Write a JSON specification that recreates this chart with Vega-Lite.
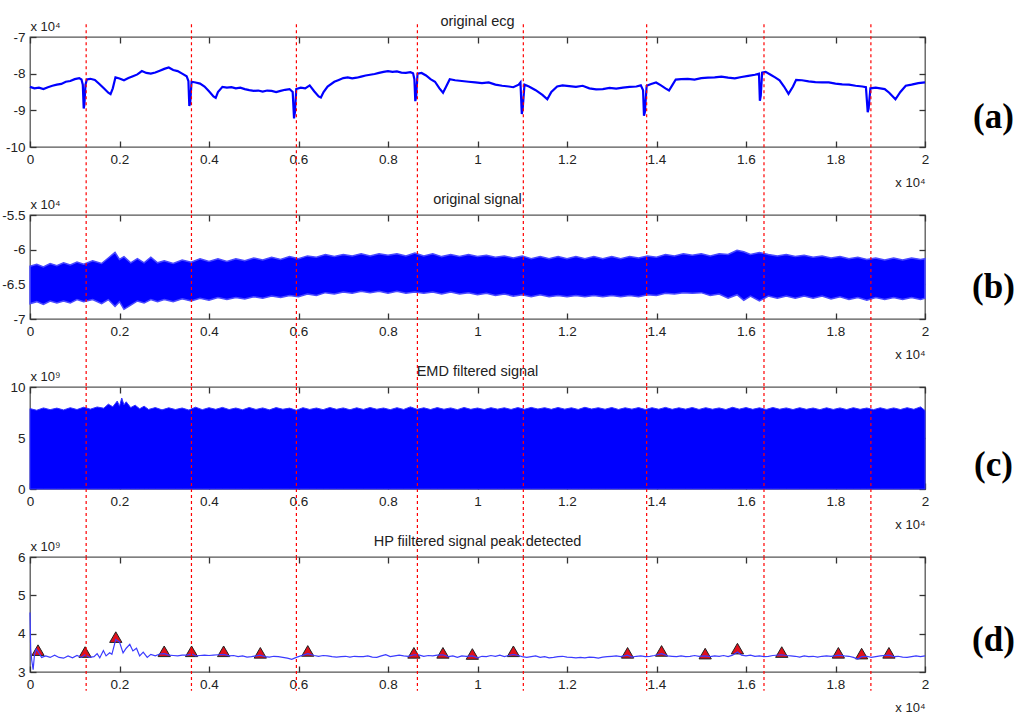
{
  "$schema": "https://vega.github.io/schema/vega-lite/v6.json",
  "background": "white",
  "padding": {"left": 1, "top": 12, "right": 5, "bottom": 3},
  "bounds": "flush",
  "spacing": 68,
  "datasets": {
    "ecg": [
      {"x":0,"v":-8.36},{"x":100,"v":-8.40},{"x":200,"v":-8.38},{"x":300,"v":-8.42},{"x":400,"v":-8.37},{"x":500,"v":-8.33},{"x":600,"v":-8.30},{"x":700,"v":-8.28},{"x":800,"v":-8.22},{"x":900,"v":-8.20},{"x":1000,"v":-8.15},{"x":1100,"v":-8.12},{"x":1150,"v":-8.16},{"x":1180,"v":-8.30},{"x":1200,"v":-8.95},{"x":1215,"v":-8.85},{"x":1240,"v":-8.30},{"x":1270,"v":-8.16},{"x":1350,"v":-8.14},{"x":1450,"v":-8.17},{"x":1550,"v":-8.28},{"x":1650,"v":-8.40},{"x":1750,"v":-8.52},{"x":1800,"v":-8.56},{"x":1850,"v":-8.40},{"x":1910,"v":-8.10},{"x":2000,"v":-8.13},{"x":2100,"v":-8.18},{"x":2200,"v":-8.12},{"x":2300,"v":-8.07},{"x":2400,"v":-8.02},{"x":2500,"v":-7.93},{"x":2600,"v":-7.98},{"x":2700,"v":-8.00},{"x":2800,"v":-7.97},{"x":2900,"v":-7.92},{"x":3000,"v":-7.87},{"x":3100,"v":-7.83},{"x":3200,"v":-7.90},{"x":3300,"v":-7.93},{"x":3400,"v":-8.00},{"x":3500,"v":-8.07},{"x":3540,"v":-8.20},{"x":3560,"v":-8.88},{"x":3580,"v":-8.80},{"x":3610,"v":-8.22},{"x":3700,"v":-8.24},{"x":3800,"v":-8.27},{"x":3900,"v":-8.35},{"x":4000,"v":-8.48},{"x":4100,"v":-8.62},{"x":4150,"v":-8.66},{"x":4200,"v":-8.50},{"x":4300,"v":-8.36},{"x":4400,"v":-8.38},{"x":4500,"v":-8.37},{"x":4600,"v":-8.40},{"x":4700,"v":-8.38},{"x":4800,"v":-8.42},{"x":4900,"v":-8.45},{"x":5000,"v":-8.47},{"x":5100,"v":-8.46},{"x":5200,"v":-8.49},{"x":5300,"v":-8.46},{"x":5400,"v":-8.47},{"x":5500,"v":-8.50},{"x":5600,"v":-8.47},{"x":5700,"v":-8.44},{"x":5800,"v":-8.42},{"x":5870,"v":-8.50},{"x":5900,"v":-9.22},{"x":5920,"v":-9.05},{"x":5950,"v":-8.42},{"x":6050,"v":-8.38},{"x":6150,"v":-8.40},{"x":6250,"v":-8.32},{"x":6350,"v":-8.48},{"x":6450,"v":-8.62},{"x":6500,"v":-8.65},{"x":6560,"v":-8.50},{"x":6650,"v":-8.35},{"x":6800,"v":-8.22},{"x":6900,"v":-8.17},{"x":7000,"v":-8.12},{"x":7100,"v":-8.10},{"x":7200,"v":-8.13},{"x":7300,"v":-8.11},{"x":7400,"v":-8.08},{"x":7500,"v":-8.05},{"x":7600,"v":-8.03},{"x":7700,"v":-8.01},{"x":7800,"v":-7.98},{"x":7900,"v":-7.95},{"x":8000,"v":-7.93},{"x":8100,"v":-7.95},{"x":8200,"v":-7.94},{"x":8300,"v":-7.97},{"x":8400,"v":-7.98},{"x":8500,"v":-7.96},{"x":8560,"v":-7.99},{"x":8590,"v":-8.15},{"x":8610,"v":-8.75},{"x":8630,"v":-8.62},{"x":8660,"v":-8.00},{"x":8750,"v":-7.98},{"x":8850,"v":-8.05},{"x":8950,"v":-8.15},{"x":9050,"v":-8.22},{"x":9150,"v":-8.40},{"x":9230,"v":-8.52},{"x":9300,"v":-8.35},{"x":9380,"v":-8.15},{"x":9500,"v":-8.18},{"x":9650,"v":-8.20},{"x":9800,"v":-8.22},{"x":9950,"v":-8.24},{"x":10100,"v":-8.26},{"x":10250,"v":-8.24},{"x":10400,"v":-8.30},{"x":10550,"v":-8.33},{"x":10700,"v":-8.35},{"x":10800,"v":-8.37},{"x":10920,"v":-8.30},{"x":10960,"v":-8.24},{"x":10990,"v":-9.10},{"x":11010,"v":-8.95},{"x":11050,"v":-8.30},{"x":11150,"v":-8.35},{"x":11300,"v":-8.45},{"x":11450,"v":-8.58},{"x":11560,"v":-8.70},{"x":11650,"v":-8.50},{"x":11780,"v":-8.35},{"x":11900,"v":-8.32},{"x":12050,"v":-8.34},{"x":12200,"v":-8.36},{"x":12350,"v":-8.33},{"x":12500,"v":-8.40},{"x":12650,"v":-8.43},{"x":12800,"v":-8.42},{"x":12950,"v":-8.39},{"x":13100,"v":-8.41},{"x":13250,"v":-8.38},{"x":13400,"v":-8.36},{"x":13550,"v":-8.35},{"x":13650,"v":-8.32},{"x":13700,"v":-8.45},{"x":13720,"v":-9.15},{"x":13740,"v":-9.05},{"x":13780,"v":-8.33},{"x":13880,"v":-8.28},{"x":13990,"v":-8.24},{"x":14100,"v":-8.32},{"x":14200,"v":-8.40},{"x":14280,"v":-8.46},{"x":14350,"v":-8.32},{"x":14430,"v":-8.16},{"x":14550,"v":-8.15},{"x":14700,"v":-8.14},{"x":14850,"v":-8.16},{"x":15000,"v":-8.12},{"x":15150,"v":-8.11},{"x":15300,"v":-8.10},{"x":15450,"v":-8.08},{"x":15600,"v":-8.11},{"x":15750,"v":-8.13},{"x":15900,"v":-8.09},{"x":16050,"v":-8.06},{"x":16200,"v":-8.03},{"x":16290,"v":-8.00},{"x":16310,"v":-8.74},{"x":16330,"v":-8.60},{"x":16360,"v":-7.97},{"x":16440,"v":-7.95},{"x":16550,"v":-8.03},{"x":16650,"v":-8.10},{"x":16750,"v":-8.18},{"x":16850,"v":-8.35},{"x":16950,"v":-8.55},{"x":17050,"v":-8.35},{"x":17120,"v":-8.17},{"x":17250,"v":-8.18},{"x":17400,"v":-8.21},{"x":17550,"v":-8.23},{"x":17700,"v":-8.24},{"x":17850,"v":-8.24},{"x":18000,"v":-8.27},{"x":18150,"v":-8.29},{"x":18300,"v":-8.30},{"x":18450,"v":-8.33},{"x":18600,"v":-8.35},{"x":18680,"v":-8.37},{"x":18720,"v":-9.05},{"x":18740,"v":-8.95},{"x":18780,"v":-8.40},{"x":18900,"v":-8.38},{"x":19000,"v":-8.40},{"x":19100,"v":-8.42},{"x":19200,"v":-8.52},{"x":19340,"v":-8.70},{"x":19450,"v":-8.50},{"x":19570,"v":-8.33},{"x":19700,"v":-8.30},{"x":19850,"v":-8.26},{"x":20000,"v":-8.24}
    ],
    "sig": [
      {"x":0,"hi":-6.24,"lo":-6.78},{"x":150,"hi":-6.21,"lo":-6.75},{"x":300,"hi":-6.25,"lo":-6.79},{"x":450,"hi":-6.20,"lo":-6.74},{"x":600,"hi":-6.23,"lo":-6.77},{"x":750,"hi":-6.19,"lo":-6.74},{"x":900,"hi":-6.22,"lo":-6.77},{"x":1050,"hi":-6.18,"lo":-6.72},{"x":1200,"hi":-6.21,"lo":-6.75},{"x":1400,"hi":-6.16,"lo":-6.72},{"x":1600,"hi":-6.20,"lo":-6.78},{"x":1750,"hi":-6.12,"lo":-6.72},{"x":1900,"hi":-6.04,"lo":-6.82},{"x":2000,"hi":-6.14,"lo":-6.75},{"x":2100,"hi":-6.10,"lo":-6.86},{"x":2250,"hi":-6.19,"lo":-6.80},{"x":2400,"hi":-6.13,"lo":-6.74},{"x":2550,"hi":-6.19,"lo":-6.77},{"x":2700,"hi":-6.11,"lo":-6.72},{"x":2850,"hi":-6.19,"lo":-6.75},{"x":3000,"hi":-6.16,"lo":-6.72},{"x":3200,"hi":-6.20,"lo":-6.75},{"x":3400,"hi":-6.15,"lo":-6.71},{"x":3600,"hi":-6.18,"lo":-6.74},{"x":3800,"hi":-6.13,"lo":-6.70},{"x":4000,"hi":-6.17,"lo":-6.73},{"x":4200,"hi":-6.13,"lo":-6.69},{"x":4400,"hi":-6.17,"lo":-6.72},{"x":4600,"hi":-6.13,"lo":-6.69},{"x":4800,"hi":-6.16,"lo":-6.71},{"x":5000,"hi":-6.12,"lo":-6.68},{"x":5200,"hi":-6.15,"lo":-6.70},{"x":5400,"hi":-6.11,"lo":-6.67},{"x":5600,"hi":-6.14,"lo":-6.69},{"x":5800,"hi":-6.10,"lo":-6.66},{"x":6000,"hi":-6.13,"lo":-6.68},{"x":6200,"hi":-6.09,"lo":-6.64},{"x":6400,"hi":-6.11,"lo":-6.66},{"x":6600,"hi":-6.07,"lo":-6.62},{"x":6800,"hi":-6.10,"lo":-6.64},{"x":7000,"hi":-6.07,"lo":-6.61},{"x":7200,"hi":-6.09,"lo":-6.63},{"x":7400,"hi":-6.06,"lo":-6.60},{"x":7600,"hi":-6.09,"lo":-6.62},{"x":7800,"hi":-6.06,"lo":-6.60},{"x":8000,"hi":-6.08,"lo":-6.63},{"x":8200,"hi":-6.06,"lo":-6.60},{"x":8400,"hi":-6.09,"lo":-6.63},{"x":8600,"hi":-6.05,"lo":-6.61},{"x":8800,"hi":-6.09,"lo":-6.63},{"x":9000,"hi":-6.06,"lo":-6.61},{"x":9200,"hi":-6.10,"lo":-6.64},{"x":9400,"hi":-6.07,"lo":-6.61},{"x":9600,"hi":-6.10,"lo":-6.64},{"x":9800,"hi":-6.07,"lo":-6.62},{"x":10000,"hi":-6.10,"lo":-6.65},{"x":10200,"hi":-6.08,"lo":-6.63},{"x":10400,"hi":-6.11,"lo":-6.66},{"x":10600,"hi":-6.09,"lo":-6.64},{"x":10800,"hi":-6.12,"lo":-6.67},{"x":11000,"hi":-6.09,"lo":-6.65},{"x":11200,"hi":-6.13,"lo":-6.68},{"x":11400,"hi":-6.10,"lo":-6.65},{"x":11600,"hi":-6.13,"lo":-6.68},{"x":11800,"hi":-6.10,"lo":-6.66},{"x":12000,"hi":-6.13,"lo":-6.68},{"x":12200,"hi":-6.10,"lo":-6.66},{"x":12400,"hi":-6.13,"lo":-6.68},{"x":12600,"hi":-6.10,"lo":-6.66},{"x":12800,"hi":-6.13,"lo":-6.68},{"x":13000,"hi":-6.10,"lo":-6.66},{"x":13200,"hi":-6.13,"lo":-6.68},{"x":13400,"hi":-6.10,"lo":-6.66},{"x":13600,"hi":-6.12,"lo":-6.68},{"x":13800,"hi":-6.09,"lo":-6.65},{"x":14000,"hi":-6.11,"lo":-6.66},{"x":14200,"hi":-6.07,"lo":-6.63},{"x":14400,"hi":-6.09,"lo":-6.64},{"x":14600,"hi":-6.06,"lo":-6.62},{"x":14800,"hi":-6.08,"lo":-6.63},{"x":15000,"hi":-6.06,"lo":-6.62},{"x":15200,"hi":-6.09,"lo":-6.66},{"x":15400,"hi":-6.06,"lo":-6.64},{"x":15600,"hi":-6.07,"lo":-6.70},{"x":15800,"hi":-6.01,"lo":-6.65},{"x":15950,"hi":-6.03,"lo":-6.73},{"x":16100,"hi":-6.07,"lo":-6.67},{"x":16300,"hi":-6.04,"lo":-6.74},{"x":16500,"hi":-6.07,"lo":-6.67},{"x":16700,"hi":-6.09,"lo":-6.70},{"x":16900,"hi":-6.07,"lo":-6.67},{"x":17100,"hi":-6.10,"lo":-6.70},{"x":17300,"hi":-6.08,"lo":-6.67},{"x":17500,"hi":-6.11,"lo":-6.70},{"x":17700,"hi":-6.09,"lo":-6.67},{"x":17900,"hi":-6.12,"lo":-6.71},{"x":18100,"hi":-6.10,"lo":-6.68},{"x":18300,"hi":-6.13,"lo":-6.72},{"x":18500,"hi":-6.11,"lo":-6.69},{"x":18700,"hi":-6.14,"lo":-6.73},{"x":18900,"hi":-6.12,"lo":-6.69},{"x":19100,"hi":-6.15,"lo":-6.72},{"x":19300,"hi":-6.12,"lo":-6.69},{"x":19500,"hi":-6.15,"lo":-6.72},{"x":19700,"hi":-6.12,"lo":-6.69},{"x":19900,"hi":-6.14,"lo":-6.72},{"x":20000,"hi":-6.13,"lo":-6.70}
    ],
    "emd": [
      {"x":0,"hi":7.88},{"x":150,"hi":7.72},{"x":300,"hi":7.95},{"x":450,"hi":7.78},{"x":600,"hi":7.93},{"x":750,"hi":7.75},{"x":900,"hi":7.97},{"x":1050,"hi":7.79},{"x":1200,"hi":8.02},{"x":1350,"hi":7.83},{"x":1500,"hi":8.04},{"x":1650,"hi":7.92},{"x":1750,"hi":8.32},{"x":1850,"hi":8.06},{"x":1950,"hi":8.62},{"x":2000,"hi":8.12},{"x":2050,"hi":8.92},{"x":2100,"hi":8.25},{"x":2150,"hi":8.55},{"x":2250,"hi":7.98},{"x":2350,"hi":8.22},{"x":2450,"hi":7.86},{"x":2550,"hi":8.12},{"x":2650,"hi":7.80},{"x":2800,"hi":7.98},{"x":2950,"hi":7.76},{"x":3100,"hi":7.96},{"x":3250,"hi":7.79},{"x":3400,"hi":7.94},{"x":3550,"hi":7.74},{"x":3700,"hi":8.02},{"x":3850,"hi":7.78},{"x":4000,"hi":7.97},{"x":4150,"hi":7.81},{"x":4300,"hi":8.00},{"x":4450,"hi":7.79},{"x":4600,"hi":7.94},{"x":4750,"hi":7.77},{"x":4900,"hi":7.99},{"x":5050,"hi":7.80},{"x":5200,"hi":7.95},{"x":5350,"hi":7.76},{"x":5500,"hi":7.98},{"x":5650,"hi":7.82},{"x":5800,"hi":7.93},{"x":5950,"hi":7.72},{"x":6100,"hi":7.97},{"x":6250,"hi":7.80},{"x":6400,"hi":7.94},{"x":6550,"hi":7.78},{"x":6700,"hi":7.99},{"x":6850,"hi":7.81},{"x":7000,"hi":7.95},{"x":7150,"hi":7.77},{"x":7300,"hi":7.96},{"x":7450,"hi":7.80},{"x":7600,"hi":7.99},{"x":7750,"hi":7.82},{"x":7900,"hi":7.94},{"x":8050,"hi":7.78},{"x":8200,"hi":7.97},{"x":8350,"hi":7.80},{"x":8500,"hi":8.05},{"x":8650,"hi":7.81},{"x":8800,"hi":7.96},{"x":8950,"hi":7.79},{"x":9100,"hi":7.98},{"x":9250,"hi":7.82},{"x":9400,"hi":7.95},{"x":9550,"hi":7.78},{"x":9700,"hi":7.99},{"x":9850,"hi":7.81},{"x":10000,"hi":7.94},{"x":10150,"hi":7.79},{"x":10300,"hi":7.97},{"x":10450,"hi":7.83},{"x":10600,"hi":7.96},{"x":10750,"hi":7.80},{"x":10900,"hi":7.98},{"x":11050,"hi":7.82},{"x":11200,"hi":8.00},{"x":11350,"hi":7.84},{"x":11500,"hi":7.97},{"x":11650,"hi":7.81},{"x":11800,"hi":7.99},{"x":11950,"hi":7.83},{"x":12100,"hi":7.96},{"x":12250,"hi":7.80},{"x":12400,"hi":8.01},{"x":12550,"hi":7.84},{"x":12700,"hi":7.97},{"x":12850,"hi":7.82},{"x":13000,"hi":7.99},{"x":13150,"hi":7.80},{"x":13300,"hi":7.96},{"x":13450,"hi":7.83},{"x":13600,"hi":7.98},{"x":13750,"hi":7.79},{"x":13900,"hi":7.97},{"x":14050,"hi":7.82},{"x":14200,"hi":8.00},{"x":14350,"hi":7.81},{"x":14500,"hi":7.96},{"x":14650,"hi":7.83},{"x":14800,"hi":7.99},{"x":14950,"hi":7.80},{"x":15100,"hi":7.97},{"x":15250,"hi":7.82},{"x":15400,"hi":7.95},{"x":15550,"hi":7.79},{"x":15700,"hi":8.01},{"x":15850,"hi":7.83},{"x":16000,"hi":7.98},{"x":16150,"hi":7.81},{"x":16300,"hi":7.96},{"x":16450,"hi":7.80},{"x":16600,"hi":7.99},{"x":16750,"hi":7.82},{"x":16900,"hi":7.95},{"x":17050,"hi":7.79},{"x":17200,"hi":7.97},{"x":17350,"hi":7.81},{"x":17500,"hi":7.94},{"x":17650,"hi":7.78},{"x":17800,"hi":7.96},{"x":17950,"hi":7.80},{"x":18100,"hi":7.95},{"x":18250,"hi":7.79},{"x":18400,"hi":7.97},{"x":18550,"hi":7.81},{"x":18700,"hi":7.94},{"x":18850,"hi":7.78},{"x":19000,"hi":7.96},{"x":19150,"hi":7.80},{"x":19300,"hi":7.95},{"x":19450,"hi":7.79},{"x":19600,"hi":7.97},{"x":19750,"hi":7.81},{"x":19900,"hi":8.05},{"x":20000,"hi":7.70}
    ],
    "hp": [
      {"x":0,"v":4.55},{"x":15,"v":3.6},{"x":40,"v":3.3},{"x":70,"v":3.06},{"x":100,"v":3.45},{"x":140,"v":3.6},{"x":200,"v":3.5},{"x":260,"v":3.38},{"x":350,"v":3.42},{"x":450,"v":3.38},{"x":550,"v":3.44},{"x":650,"v":3.38},{"x":750,"v":3.36},{"x":850,"v":3.42},{"x":950,"v":3.37},{"x":1050,"v":3.43},{"x":1150,"v":3.38},{"x":1230,"v":3.45},{"x":1330,"v":3.38},{"x":1430,"v":3.40},{"x":1500,"v":3.48},{"x":1560,"v":3.37},{"x":1640,"v":3.56},{"x":1700,"v":3.42},{"x":1780,"v":3.5},{"x":1830,"v":3.46},{"x":1917,"v":3.85},{"x":2000,"v":3.78},{"x":2080,"v":3.5},{"x":2150,"v":3.62},{"x":2230,"v":3.72},{"x":2300,"v":3.55},{"x":2380,"v":3.62},{"x":2450,"v":3.42},{"x":2530,"v":3.52},{"x":2620,"v":3.38},{"x":2700,"v":3.46},{"x":2800,"v":3.42},{"x":2900,"v":3.47},{"x":3000,"v":3.48},{"x":3100,"v":3.44},{"x":3200,"v":3.43},{"x":3300,"v":3.42},{"x":3400,"v":3.44},{"x":3500,"v":3.44},{"x":3611,"v":3.47},{"x":3700,"v":3.42},{"x":3800,"v":3.43},{"x":3900,"v":3.44},{"x":4000,"v":3.43},{"x":4100,"v":3.44},{"x":4200,"v":3.45},{"x":4327,"v":3.46},{"x":4450,"v":3.42},{"x":4550,"v":3.43},{"x":4650,"v":3.40},{"x":4750,"v":3.42},{"x":4850,"v":3.39},{"x":4950,"v":3.40},{"x":5050,"v":3.42},{"x":5147,"v":3.44},{"x":5250,"v":3.40},{"x":5350,"v":3.39},{"x":5450,"v":3.41},{"x":5550,"v":3.40},{"x":5650,"v":3.38},{"x":5750,"v":3.36},{"x":5850,"v":3.33},{"x":5950,"v":3.38},{"x":6050,"v":3.42},{"x":6207,"v":3.48},{"x":6350,"v":3.43},{"x":6450,"v":3.41},{"x":6550,"v":3.43},{"x":6650,"v":3.42},{"x":6750,"v":3.40},{"x":6850,"v":3.39},{"x":6950,"v":3.40},{"x":7050,"v":3.41},{"x":7150,"v":3.39},{"x":7250,"v":3.41},{"x":7350,"v":3.40},{"x":7450,"v":3.40},{"x":7550,"v":3.42},{"x":7650,"v":3.39},{"x":7750,"v":3.38},{"x":7850,"v":3.42},{"x":7950,"v":3.45},{"x":8050,"v":3.40},{"x":8150,"v":3.42},{"x":8250,"v":3.44},{"x":8350,"v":3.42},{"x":8450,"v":3.41},{"x":8579,"v":3.45},{"x":8700,"v":3.44},{"x":8800,"v":3.41},{"x":8900,"v":3.43},{"x":9000,"v":3.42},{"x":9100,"v":3.44},{"x":9228,"v":3.45},{"x":9350,"v":3.40},{"x":9450,"v":3.42},{"x":9550,"v":3.38},{"x":9650,"v":3.42},{"x":9750,"v":3.41},{"x":9885,"v":3.42},{"x":10000,"v":3.37},{"x":10100,"v":3.41},{"x":10200,"v":3.40},{"x":10300,"v":3.43},{"x":10400,"v":3.41},{"x":10500,"v":3.44},{"x":10600,"v":3.40},{"x":10700,"v":3.43},{"x":10802,"v":3.46},{"x":10900,"v":3.43},{"x":11000,"v":3.40},{"x":11100,"v":3.38},{"x":11200,"v":3.40},{"x":11300,"v":3.42},{"x":11400,"v":3.38},{"x":11500,"v":3.40},{"x":11600,"v":3.37},{"x":11700,"v":3.38},{"x":11800,"v":3.40},{"x":11900,"v":3.41},{"x":12000,"v":3.39},{"x":12100,"v":3.38},{"x":12200,"v":3.37},{"x":12300,"v":3.38},{"x":12400,"v":3.37},{"x":12500,"v":3.39},{"x":12600,"v":3.38},{"x":12700,"v":3.36},{"x":12800,"v":3.39},{"x":12900,"v":3.40},{"x":13000,"v":3.41},{"x":13100,"v":3.42},{"x":13200,"v":3.40},{"x":13354,"v":3.44},{"x":13450,"v":3.39},{"x":13550,"v":3.41},{"x":13650,"v":3.42},{"x":13750,"v":3.40},{"x":13850,"v":3.41},{"x":13950,"v":3.43},{"x":14113,"v":3.48},{"x":14250,"v":3.42},{"x":14350,"v":3.41},{"x":14450,"v":3.40},{"x":14550,"v":3.42},{"x":14650,"v":3.40},{"x":14750,"v":3.41},{"x":14850,"v":3.43},{"x":14950,"v":3.41},{"x":15088,"v":3.42},{"x":15200,"v":3.40},{"x":15300,"v":3.42},{"x":15400,"v":3.41},{"x":15500,"v":3.43},{"x":15600,"v":3.40},{"x":15700,"v":3.44},{"x":15809,"v":3.52},{"x":15900,"v":3.44},{"x":16000,"v":3.42},{"x":16100,"v":3.44},{"x":16200,"v":3.41},{"x":16300,"v":3.42},{"x":16400,"v":3.40},{"x":16500,"v":3.41},{"x":16600,"v":3.43},{"x":16799,"v":3.45},{"x":16900,"v":3.43},{"x":17000,"v":3.42},{"x":17100,"v":3.41},{"x":17200,"v":3.39},{"x":17300,"v":3.42},{"x":17400,"v":3.40},{"x":17500,"v":3.41},{"x":17600,"v":3.39},{"x":17700,"v":3.41},{"x":17800,"v":3.42},{"x":17900,"v":3.41},{"x":18064,"v":3.44},{"x":18200,"v":3.42},{"x":18300,"v":3.41},{"x":18400,"v":3.38},{"x":18500,"v":3.34},{"x":18584,"v":3.40},{"x":18700,"v":3.41},{"x":18800,"v":3.38},{"x":18900,"v":3.40},{"x":19000,"v":3.42},{"x":19194,"v":3.44},{"x":19300,"v":3.40},{"x":19400,"v":3.41},{"x":19500,"v":3.39},{"x":19600,"v":3.38},{"x":19700,"v":3.40},{"x":19800,"v":3.42},{"x":19900,"v":3.40},{"x":20000,"v":3.42}
    ],
    "peaks": [
      {"x":179,"v":3.57},{"x":1231,"v":3.52},{"x":1917,"v":3.91},{"x":2999,"v":3.54},{"x":3611,"v":3.54},{"x":4327,"v":3.54},{"x":5147,"v":3.50},{"x":6207,"v":3.55},{"x":8579,"v":3.50},{"x":9228,"v":3.50},{"x":9885,"v":3.47},{"x":10802,"v":3.54},{"x":13354,"v":3.50},{"x":14113,"v":3.55},{"x":15088,"v":3.48},{"x":15809,"v":3.61},{"x":16799,"v":3.52},{"x":18064,"v":3.50},{"x":18584,"v":3.48},{"x":19194,"v":3.50}
    ],
    "qrs": [
      {"x":1255},{"x":3608},{"x":5953},{"x":8657},{"x":11024},{"x":13780},{"x":16402},{"x":18791}
    ]
  },
  "config": {
    "font": "Liberation Sans",
    "view": {"stroke": "#555555", "strokeWidth": 1.3},
    "axis": {
      "labelFont": "Liberation Sans", "labelFontSize": 13.5, "labelColor": "#222222",
      "tickColor": "#333333", "tickSize": -6, "tickWidth": 1.3,
      "domain": false, "grid": false, "labelPadding": 11, "labelFlush": false,
      "titleFont": "Liberation Sans", "titleFontWeight": "normal", "titleFontSize": 13, "titleColor": "#222222"
    },
    "title": {"font": "Liberation Sans", "fontSize": 14.5, "fontWeight": "normal", "color": "#222222", "anchor": "middle", "baseline": "alphabetic", "offset": -9}
  },
  "vconcat": [
    {
      "width": 895, "height": 110,
      "title": "original ecg",
      "layer": [
        {
          "data": {"name": "ecg"},
          "mark": {"type": "line", "color": "#0000ff", "strokeWidth": 2.2},
          "encoding": {
            "x": {"field": "x", "type": "quantitative", "scale": {"domain": [0, 20000], "nice": false},
                  "axis": {"orient": "bottom", "values": [0,2000,4000,6000,8000,10000,12000,14000,16000,18000,20000], "labelExpr": "'' + datum.value / 10000", "title": "x 10⁴", "titleAnchor": "end", "titlePadding": 11}},
            "y": {"field": "v", "type": "quantitative", "scale": {"domain": [-10, -7], "nice": false, "zero": false},
                  "axis": {"orient": "left", "values": [-10,-9,-8,-7], "labelExpr": "'' + datum.value", "title": "x 10⁴", "titleAngle": 0, "titleAlign": "left", "titleBaseline": "alphabetic", "titleX": 0, "titleY": -7}}
          }
        },
        {
          "data": {"name": "qrs"},
          "mark": {"type": "rule", "color": "#ff0000", "strokeDash": [3, 3], "strokeWidth": 1.2, "clip": false},
          "encoding": {
            "x": {"field": "x", "type": "quantitative", "scale": {"domain": [0, 20000], "nice": false},
                  "axis": {"orient": "top", "values": [0,2000,4000,6000,8000,10000,12000,14000,16000,18000,20000], "labels": false, "title": null}},
            "y": {"datum": -6.65, "type": "quantitative", "scale": {"domain": [-10, -7], "nice": false, "zero": false},
                  "axis": {"orient": "right", "values": [-10,-9,-8,-7], "labels": false, "title": null}},
            "y2": {"datum": -11.855}
          }
        },
        {
          "data": {"values": [{"t": "(a)"}]},
          "mark": {"type": "text", "font": "Liberation Serif", "fontWeight": "bold", "fontSize": 35, "align": "center", "baseline": "middle", "clip": false},
          "encoding": {
            "x": {"datum": 21530, "type": "quantitative", "scale": {"domain": [0, 20000], "nice": false}, "axis": null},
            "y": {"datum": -9.19, "type": "quantitative", "scale": {"domain": [-10, -7], "nice": false, "zero": false}, "axis": null},
            "text": {"field": "t"}
          }
        }
      ],
      "resolve": {"axis": {"x": "independent", "y": "independent"}}
    },
    {
      "width": 895, "height": 104,
      "title": "original signal",
      "layer": [
        {
          "data": {"name": "sig"},
          "mark": {"type": "area", "color": "#0000ff", "stroke": "#4a4aff", "strokeWidth": 1.5},
          "encoding": {
            "x": {"field": "x", "type": "quantitative", "scale": {"domain": [0, 20000], "nice": false},
                  "axis": {"orient": "bottom", "values": [0,2000,4000,6000,8000,10000,12000,14000,16000,18000,20000], "labelExpr": "'' + datum.value / 10000", "title": "x 10⁴", "titleAnchor": "end", "titlePadding": 11}},
            "y": {"field": "hi", "type": "quantitative", "scale": {"domain": [-7, -5.5], "nice": false, "zero": false},
                  "axis": {"orient": "left", "values": [-7,-6.5,-6,-5.5], "labelExpr": "'' + datum.value", "title": "x 10⁴", "titleAngle": 0, "titleAlign": "left", "titleBaseline": "alphabetic", "titleX": 0, "titleY": -7}},
            "y2": {"field": "lo"}
          }
        },
        {
          "data": {"name": "qrs"},
          "mark": {"type": "rule", "color": "#ff0000", "strokeDash": [3, 3], "strokeWidth": 1.2, "clip": false},
          "encoding": {
            "x": {"field": "x", "type": "quantitative", "scale": {"domain": [0, 20000], "nice": false},
                  "axis": {"orient": "top", "values": [0,2000,4000,6000,8000,10000,12000,14000,16000,18000,20000], "labels": false, "title": null}},
            "y": {"datum": -5.5, "type": "quantitative", "scale": {"domain": [-7, -5.5], "nice": false, "zero": false},
                  "axis": {"orient": "right", "values": [-7,-6.5,-6,-5.5], "labels": false, "title": null}},
            "y2": {"datum": -7.98}
          }
        },
        {
          "data": {"values": [{"t": "(b)"}]},
          "mark": {"type": "text", "font": "Liberation Serif", "fontWeight": "bold", "fontSize": 35, "align": "center", "baseline": "middle", "clip": false},
          "encoding": {
            "x": {"datum": 21530, "type": "quantitative", "scale": {"domain": [0, 20000], "nice": false}, "axis": null},
            "y": {"datum": -6.54, "type": "quantitative", "scale": {"domain": [-7, -5.5], "nice": false, "zero": false}, "axis": null},
            "text": {"field": "t"}
          }
        }
      ],
      "resolve": {"axis": {"x": "independent", "y": "independent"}}
    },
    {
      "width": 895, "height": 102,
      "title": "EMD filtered signal",
      "layer": [
        {
          "data": {"name": "emd"},
          "mark": {"type": "area", "color": "#0000ff", "stroke": "#3333ff", "strokeWidth": 1},
          "encoding": {
            "x": {"field": "x", "type": "quantitative", "scale": {"domain": [0, 20000], "nice": false},
                  "axis": {"orient": "bottom", "values": [0,2000,4000,6000,8000,10000,12000,14000,16000,18000,20000], "labelExpr": "'' + datum.value / 10000", "title": "x 10⁴", "titleAnchor": "end", "titlePadding": 11}},
            "y": {"field": "hi", "type": "quantitative", "scale": {"domain": [0, 10], "nice": false},
                  "axis": {"orient": "left", "values": [0,5,10], "labelExpr": "'' + datum.value", "title": "x 10⁹", "titleAngle": 0, "titleAlign": "left", "titleBaseline": "alphabetic", "titleX": 0, "titleY": -7}},
            "y2": {"datum": 0}
          }
        },
        {
          "data": {"name": "qrs"},
          "mark": {"type": "rule", "color": "#ff0000", "strokeDash": [3, 3], "strokeWidth": 1.2, "clip": false},
          "encoding": {
            "x": {"field": "x", "type": "quantitative", "scale": {"domain": [0, 20000], "nice": false},
                  "axis": {"orient": "top", "values": [0,2000,4000,6000,8000,10000,12000,14000,16000,18000,20000], "labels": false, "title": null}},
            "y": {"datum": 10, "type": "quantitative", "scale": {"domain": [0, 10], "nice": false},
                  "axis": {"orient": "right", "values": [0,5,10], "labels": false, "title": null}},
            "y2": {"datum": -6.67}
          }
        },
        {
          "data": {"values": [{"t": "(c)"}]},
          "mark": {"type": "text", "font": "Liberation Serif", "fontWeight": "bold", "fontSize": 35, "align": "center", "baseline": "middle", "clip": false},
          "encoding": {
            "x": {"datum": 21530, "type": "quantitative", "scale": {"domain": [0, 20000], "nice": false}, "axis": null},
            "y": {"datum": 2.32, "type": "quantitative", "scale": {"domain": [0, 10], "nice": false}, "axis": null},
            "text": {"field": "t"}
          }
        }
      ],
      "resolve": {"axis": {"x": "independent", "y": "independent"}}
    },
    {
      "width": 895, "height": 115,
      "title": "HP fiiltered signal peak detected",
      "layer": [
        {
          "data": {"name": "peaks"},
          "mark": {"type": "point", "shape": "triangle-up", "size": 150, "filled": true, "fill": "#e0101b", "stroke": "#222222", "strokeWidth": 1, "opacity": 1},
          "encoding": {
            "x": {"field": "x", "type": "quantitative", "scale": {"domain": [0, 20000], "nice": false}, "axis": null},
            "y": {"field": "v", "type": "quantitative", "scale": {"domain": [3, 6], "nice": false, "zero": false}, "axis": null}
          }
        },
        {
          "data": {"name": "hp"},
          "mark": {"type": "line", "color": "#3b3bff", "strokeWidth": 1.2},
          "encoding": {
            "x": {"field": "x", "type": "quantitative", "scale": {"domain": [0, 20000], "nice": false},
                  "axis": {"orient": "bottom", "values": [0,2000,4000,6000,8000,10000,12000,14000,16000,18000,20000], "labelExpr": "'' + datum.value / 10000", "title": "x 10⁴", "titleAnchor": "end", "titlePadding": 11}},
            "y": {"field": "v", "type": "quantitative", "scale": {"domain": [3, 6], "nice": false, "zero": false},
                  "axis": {"orient": "left", "values": [3,4,5,6], "labelExpr": "'' + datum.value", "title": "x 10⁹", "titleAngle": 0, "titleAlign": "left", "titleBaseline": "alphabetic", "titleX": 0, "titleY": -7}}
          }
        },
        {
          "data": {"name": "qrs"},
          "mark": {"type": "rule", "color": "#ff0000", "strokeDash": [3, 3], "strokeWidth": 1.2, "clip": false},
          "encoding": {
            "x": {"field": "x", "type": "quantitative", "scale": {"domain": [0, 20000], "nice": false},
                  "axis": {"orient": "top", "values": [0,2000,4000,6000,8000,10000,12000,14000,16000,18000,20000], "labels": false, "title": null}},
            "y": {"datum": 6, "type": "quantitative", "scale": {"domain": [3, 6], "nice": false, "zero": false},
                  "axis": {"orient": "right", "values": [3,4,5,6], "labels": false, "title": null}},
            "y2": {"datum": 2.51}
          }
        },
        {
          "data": {"values": [{"t": "(d)"}]},
          "mark": {"type": "text", "font": "Liberation Serif", "fontWeight": "bold", "fontSize": 35, "align": "center", "baseline": "middle", "clip": false},
          "encoding": {
            "x": {"datum": 21530, "type": "quantitative", "scale": {"domain": [0, 20000], "nice": false}, "axis": null},
            "y": {"datum": 3.84, "type": "quantitative", "scale": {"domain": [3, 6], "nice": false, "zero": false}, "axis": null},
            "text": {"field": "t"}
          }
        }
      ],
      "resolve": {"axis": {"x": "independent", "y": "independent"}}
    }
  ]
}
